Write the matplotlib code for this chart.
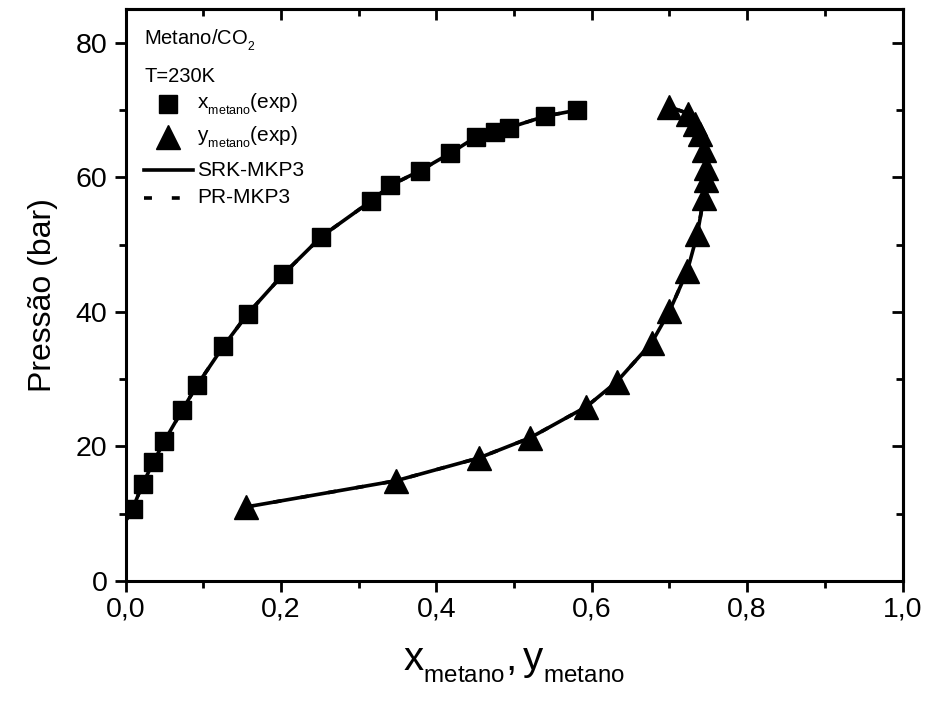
import matplotlib
matplotlib.use("Agg")
import matplotlib.pyplot as plt
import matplotlib._mathtext as mt
from matplotlib.ticker import MultipleLocator, FuncFormatter

plt.rcParams["font.family"] = ["Liberation Sans", "DejaVu Sans"]
plt.rcParams["mathtext.fontset"] = "custom"
plt.rcParams["mathtext.rm"] = "Liberation Sans"
plt.rcParams["mathtext.it"] = "Liberation Sans"
plt.rcParams["mathtext.bf"] = "Liberation Sans"
# Origin style subscripts: smaller and lower than the mathtext default
mt.SHRINK_FACTOR = 0.6
mt.FontConstantsBase.sub1 = 0.55
mt.FontConstantsBase.sub2 = 0.6

# experimental liquid phase (squares)
x_exp = [0.009, 0.022, 0.036, 0.050, 0.073, 0.092, 0.126, 0.157, 0.203, 0.252,
         0.316, 0.341, 0.379, 0.418, 0.451, 0.476, 0.494, 0.540, 0.581]
p_x_exp = [10.7, 14.4, 17.7, 20.8, 25.4, 29.1, 34.9, 39.7, 45.6, 51.2,
           56.5, 58.8, 61.0, 63.6, 66.0, 66.8, 67.4, 69.1, 70.0]

# experimental vapour phase (triangles)
y_exp = [0.155, 0.348, 0.455, 0.521, 0.593, 0.632, 0.677, 0.700, 0.723, 0.736,
         0.744, 0.747, 0.747, 0.744, 0.739, 0.733, 0.724, 0.700]
p_y_exp = [11.0, 14.9, 18.3, 21.3, 25.9, 29.6, 35.4, 40.1, 46.1, 51.6,
           56.9, 59.6, 61.4, 64.1, 66.5, 68.0, 69.5, 70.5]

# model curves (they run through the points)
x_model = [0.0] + x_exp
p_x_model = [8.9] + p_x_exp
y_model = y_exp
p_y_model = p_y_exp

fig = plt.figure(figsize=(9.25, 7.02), dpi=100)
ax = fig.add_axes([0.1357, 0.1724, 0.8400, 0.8144])

lw = 2.6
dash = (2.2, 5.5)
ax.plot(x_model, p_x_model, color="k", lw=lw, ls=(0, dash))
ax.plot(y_model, p_y_model, color="k", lw=lw, ls=(0, dash))
ax.plot(x_model, p_x_model, "-", color="k", lw=lw)
ax.plot(y_model, p_y_model, "-", color="k", lw=lw)
ax.plot(x_exp, p_x_exp, "s", color="k", ms=13.5, ls="none")
ax.plot(y_exp, p_y_exp, "^", color="k", ms=17, ls="none")

ax.set_xlim(0, 1.0)
ax.set_ylim(0, 85)
ax.xaxis.set_major_locator(MultipleLocator(0.2))
ax.xaxis.set_minor_locator(MultipleLocator(0.1))
ax.yaxis.set_major_locator(MultipleLocator(20))
ax.yaxis.set_minor_locator(MultipleLocator(10))
ax.xaxis.set_major_formatter(FuncFormatter(lambda v, p: f"{v:.1f}".replace(".", ",")))
ax.yaxis.set_major_formatter(FuncFormatter(lambda v, p: f"{v:.0f}"))

for s in ax.spines.values():
    s.set_linewidth(2.2)
ax.tick_params(which="both", direction="out", width=2.0, labelsize=20.5,
               top=False, right=False)
ax.tick_params(which="major", length=8)
ax.tick_params(which="minor", length=5)
ax.tick_params(axis="y", pad=5)

# mirrored ticks pointing inward on top and right
ax_top = ax.secondary_xaxis("top")
ax_top.xaxis.set_major_locator(MultipleLocator(0.2))
ax_top.xaxis.set_minor_locator(MultipleLocator(0.1))
ax_top.tick_params(which="both", direction="in", width=2.0, labeltop=False)
ax_top.tick_params(which="major", length=8)
ax_top.tick_params(which="minor", length=5)
ax_top.spines["top"].set_linewidth(2.2)
ax_right = ax.secondary_yaxis("right")
ax_right.yaxis.set_major_locator(MultipleLocator(20))
ax_right.yaxis.set_minor_locator(MultipleLocator(10))
ax_right.tick_params(which="both", direction="in", width=2.0, labelright=False)
ax_right.tick_params(which="major", length=8)
ax_right.tick_params(which="minor", length=5)
ax_right.spines["right"].set_linewidth(2.2)

ax.set_ylabel("Pressão (bar)", fontsize=23, labelpad=13)
ax.set_xlabel(r"$\mathregular{x_{metano}, y_{metano}}$", fontsize=29, labelpad=17)

# header and legend, Origin style
tr = ax.transAxes
ax.text(0.024, 0.946, r"$\mathregular{Metano/CO_2}$", transform=tr,
        fontsize=14.5, va="center", ha="left")
ax.text(0.024, 0.882, "T=230K", transform=tr, fontsize=14.5, va="center", ha="left")

rows = [0.834, 0.776, 0.718, 0.670]
labels = [r"$\mathregular{x_{metano}(exp)}$", r"$\mathregular{y_{metano}(exp)}$",
          "SRK-MKP3", "PR-MKP3"]
ax.plot([0.0547], [rows[0]], "s", color="k", ms=13, transform=tr, clip_on=False)
ax.plot([0.0547], [rows[1]], "^", color="k", ms=17, transform=tr, clip_on=False)
ax.plot([0.0238, 0.0869], [rows[2], rows[2]], "-", color="k", lw=lw, transform=tr)
ax.plot([0.0238, 0.0869], [rows[3], rows[3]], color="k", lw=lw, ls=(0, dash),
        transform=tr)
for r, lab in zip(rows, labels):
    ax.text(0.092, r, lab, transform=tr, fontsize=15, va="center", ha="left")

fig.savefig("out.png", dpi=100)
